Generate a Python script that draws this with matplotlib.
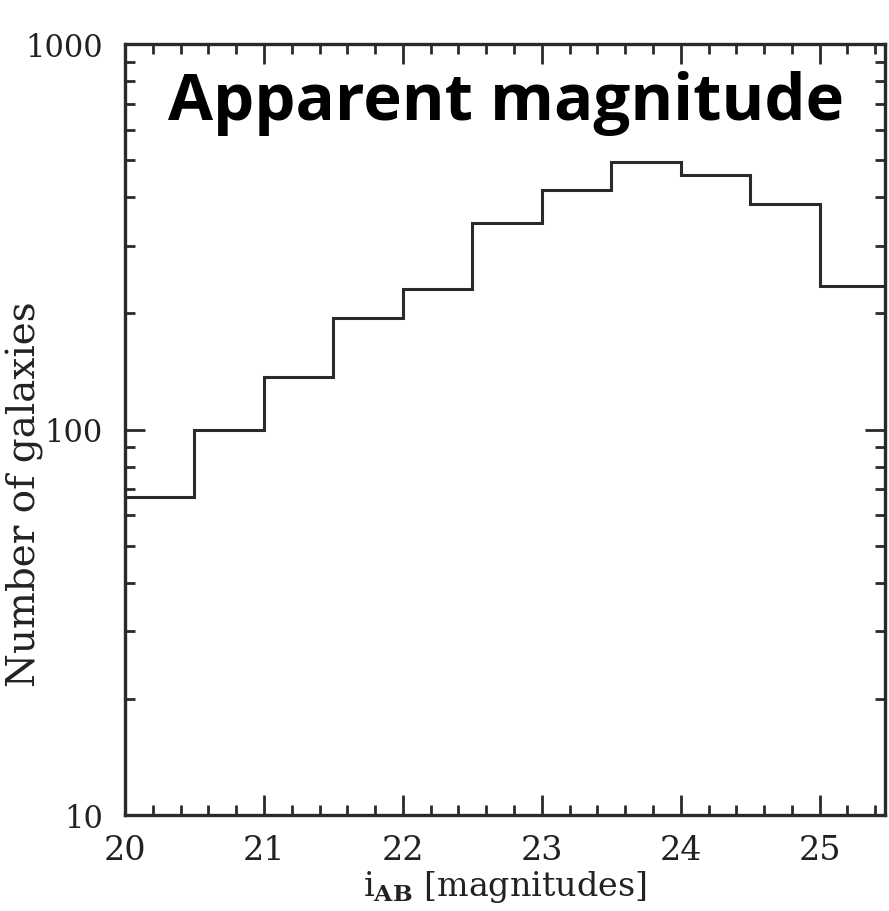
import numpy as np
import matplotlib.pyplot as plt
from matplotlib.ticker import MultipleLocator, LogLocator, NullFormatter, FixedLocator

plt.rcParams['mathtext.fontset'] = 'dejavuserif'

# Histogram of i-band apparent magnitudes (0.5 mag bins)
bin_edges = [20.0, 20.5, 21.0, 21.5, 22.0, 22.5, 23.0, 23.5, 24.0, 24.5, 25.0, 25.5]
counts = [67, 100, 137, 195, 232, 344, 419, 494, 457, 384, 235]

serif = 'DejaVu Serif'
ink = '#2a2a2a'
W, H = 889, 912

fig = plt.figure(figsize=(W / 100, H / 100), dpi=100)
ax = fig.add_axes([125 / W, 1 - 816 / H, 760 / W, 771 / H])

ax.stairs(counts, bin_edges, color=ink, linewidth=2.2)

ax.set_yscale('log')
ax.set_xlim(20, 25.47)
ax.set_ylim(10, 1000)

ax.xaxis.set_major_locator(MultipleLocator(1))
ax.xaxis.set_minor_locator(MultipleLocator(0.2))
ax.yaxis.set_major_locator(FixedLocator([10, 100, 1000]))
ax.yaxis.set_minor_locator(LogLocator(base=10, subs=np.arange(2, 10)))
ax.yaxis.set_minor_formatter(NullFormatter())
ax.set_yticklabels(['10', '100', '1000'])

ax.tick_params(which='both', direction='in', top=True, right=True,
               color=ink, width=2.0)
ax.tick_params(which='major', length=14.5, pad=16)
ax.tick_params(which='minor', length=7.2)
ax.tick_params(axis='x', labelsize=24, pad=14)
ax.tick_params(axis='y', labelsize=22)
for lab in ax.get_xticklabels() + ax.get_yticklabels():
    lab.set_fontfamily(serif)
    lab.set_color('#222222')
for sp in ax.spines.values():
    sp.set_linewidth(2.4)
    sp.set_color(ink)

ax.set_xlabel(r'i$_{\mathbf{AB}}$ [magnitudes]', fontsize=24, family=serif,
              color='#222222')
ax.xaxis.set_label_coords(0.5, (816 - 869) / 771)
ax.xaxis.label.set_verticalalignment('top')
ax.set_ylabel('Number of galaxies', fontsize=28, family=serif,
              color='#222222')
ax.yaxis.set_label_coords((44 - 125) / 760, (816 - 494) / 771)

fig.text(506 / W, 1 - 120 / H, 'Apparent magnitude', ha='center',
         va='baseline', fontsize=47, fontweight='bold',
         family='Open Sans', color='black')

fig.savefig('out.png', dpi=100)
